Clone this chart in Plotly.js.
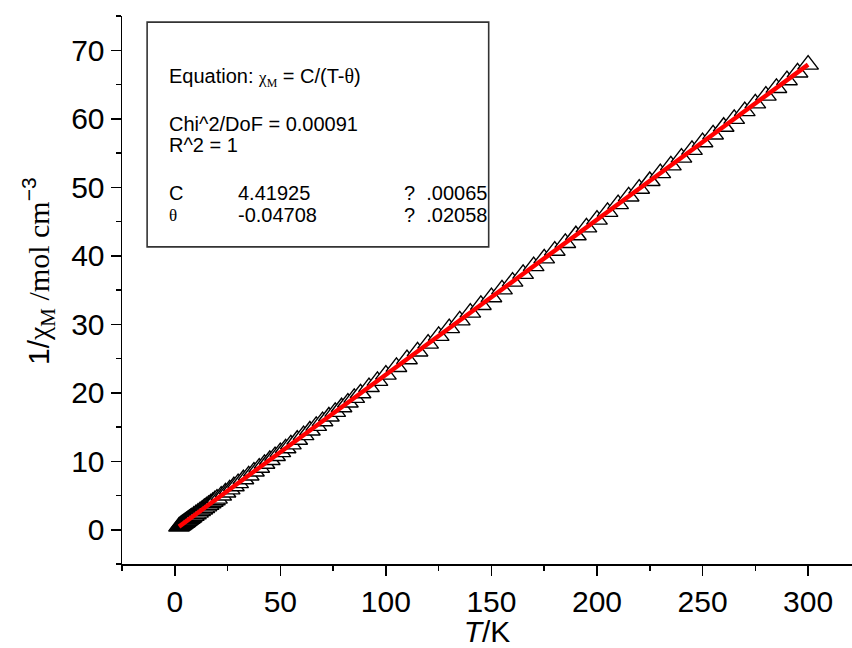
<!DOCTYPE html>
<html>
<head>
<meta charset="utf-8">
<script src="https://cdn.plot.ly/plotly-3.0.1.min.js"></script>
<style>
html,body{margin:0;padding:0;background:#fff;}
#chart{width:852px;height:648px;}
</style>
</head>
<body>
<div id="chart"></div>
<script>
// Measured data: temperature T (K) and inverse molar susceptibility 1/chi_M (mol cm^-3)
var temperatureK = [2,2.5,3,3.5,4,4.5,5,5.5,6,6.5,7,7.5,8,9,10,11,12,13,14,15,16,17,18,19,20,
  22,24,26,28,30,32.5,35,37.5,40,42.5,45,47.5,50,52.5,55,58,61,64,67,70,73,76,79,82,85,88,92,96,
  100,105,110,115,120,125,130,135,140,145,150,155,160,165,170,175,180,185,190,195,200,
  205,210,215,220,225,230,235,240,245,250,255,260,265,270,275,280,285,290,295,300];
var invChi = [0.46,0.58,0.69,0.80,0.92,1.03,1.14,1.26,1.37,1.48,1.60,1.71,1.82,2.05,2.27,2.50,2.73,2.95,3.18,3.41,3.63,3.86,4.08,4.31,4.54,
  4.99,5.44,5.89,6.35,6.80,7.37,7.93,8.50,9.06,9.63,10.19,10.76,11.33,11.89,12.46,13.14,13.81,14.49,15.17,15.85,16.53,17.21,17.89,18.57,19.25,19.92,20.83,21.73,
  22.64,23.77,24.90,26.03,27.17,28.30,29.43,30.56,31.69,32.82,33.95,35.09,36.22,37.35,38.48,39.61,40.74,41.87,43.00,44.14,45.27,
  46.40,47.53,48.66,49.79,50.92,52.06,53.19,54.32,55.45,56.58,57.71,58.84,59.98,61.11,62.24,63.37,64.50,65.63,66.76,67.90];
// Curie-Weiss fit line end points
var fitT = [2, 300];
var fitInvChi = [0.46, 67.90];
// Fit report text
var fitEquation = 'Equation: <span style="font-family:Liberation Serif;font-size:17px">χ<sub>M</sub></span> = C/(T-<span style="font-family:Liberation Serif">θ</span>)';
var fitChi2 = 'Chi^2/DoF = 0.00091';
var fitR2 = 'R^2 = 1';
var paramNames = ['C', 'θ'];
var paramValues = ['4.41925', '-0.04708'];
var paramErrors = ['?  .00065', '?  .02058'];
var yTitle = '1/<span style="font-family:Liberation Serif">χ<sub>M</sub> /mol cm</span><sup>−3</sup>';
var xTitle = '<i>T</i>/K';

var sans = 'Liberation Sans, Arial, sans-serif';
var serif = 'Liberation Serif, Times New Roman, serif';

var traces = [
  {x: temperatureK, y: invChi, mode: 'markers', type: 'scatter',
   marker: {symbol: 'triangle-up', size: 18, color: '#ffffff', line: {color: '#000000', width: 1.4}},
   hoverinfo: 'skip', showlegend: false},
  {x: fitT, y: fitInvChi, mode: 'lines', type: 'scatter',
   line: {color: '#ff0000', width: 4.5}, hoverinfo: 'skip', showlegend: false}
];

var txtFont = {family: sans, size: 20, color: '#000'};
var rowY = [49.1, 45.9];
var annotations = [
  {text: fitEquation, x: -3.8, y: 66.0},
  {text: fitChi2, x: -3.8, y: 59.2},
  {text: fitR2, x: -3.8, y: 56.15}
];
for (var i = 0; i < paramNames.length; i++) {
  annotations.push({text: paramNames[i], x: -3.8, y: rowY[i],
    font: i === 1 ? {family: serif, size: 17, color: '#000'} : txtFont});
  annotations.push({text: paramValues[i], x: 29.2, y: rowY[i]});
  annotations.push({text: paramErrors[i], x: 107.4, y: rowY[i]});
}
annotations = annotations.map(function(a){
  var o = Object.assign({xref: 'x', yref: 'y', xanchor: 'left', yanchor: 'middle', showarrow: false}, a);
  if (!o.font) o.font = txtFont;
  return o;
});
// y-axis title as a rotated annotation (positioned like the reference)
annotations.push({text: yTitle, xref: 'paper', yref: 'paper', x: -122/730, xshift: 38, y: (564 - 271) / 548,
  xanchor: 'center', yanchor: 'middle', textangle: -90, showarrow: false,
  font: {family: sans, size: 30, color: '#000'}});

var axisCommon = {
  showline: true, linecolor: '#000', linewidth: 1.5, mirror: false,
  ticks: 'outside', ticklen: 10, tickwidth: 1.5, tickcolor: '#000',
  showgrid: false, zeroline: false,
  tickfont: {family: sans, size: 30, color: '#000'}
};

var layout = {
  width: 852, height: 648,
  margin: {l: 122, r: 0, t: 16, b: 84},
  paper_bgcolor: '#fff', plot_bgcolor: '#fff',
  showlegend: false,
  xaxis: Object.assign({}, axisCommon, {
    range: [-25, 320.8], tick0: 0, dtick: 50,
    minor: {dtick: 25, tick0: 0, ticks: 'outside', ticklen: 5, tickwidth: 1.5, tickcolor: '#000', showgrid: false},
    title: {text: xTitle, font: {family: sans, size: 30, color: '#000'}, standoff: 8}
  }),
  yaxis: Object.assign({}, axisCommon, {
    range: [-5, 75], tick0: 0, dtick: 10,
    minor: {dtick: 5, tick0: 0, ticks: 'outside', ticklen: 5, tickwidth: 1.5, tickcolor: '#000', showgrid: false}
  }),
  shapes: [{type: 'rect', xref: 'x', yref: 'y', x0: -13.1, x1: 148.7, y0: 41.3, y1: 74.1,
            line: {color: '#333', width: 1.6}, fillcolor: 'rgba(0,0,0,0)', layer: 'above'}],
  annotations: annotations
};

Plotly.newPlot('chart', traces, layout, {staticPlot: true, displayModeBar: false});
</script>
</body>
</html>
